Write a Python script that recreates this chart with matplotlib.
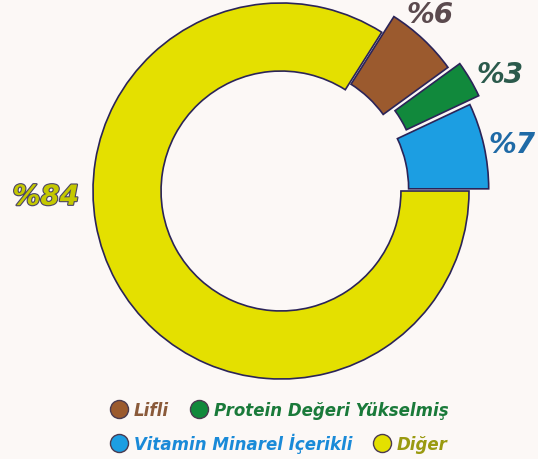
import matplotlib
matplotlib.use("Agg")
import matplotlib.pyplot as plt
import matplotlib.patheffects as pe
from matplotlib.lines import Line2D

# data
categories = ["Lifli", "Protein Değeri Yükselmiş", "Vitamin Minarel İçerikli", "Diğer"]
values = [6, 3, 7, 84]
pct_labels = ["%6", "%3", "%7", "%84"]
colors = ["#9b5a2e", "#11893c", "#1c9ee2", "#e4e000"]
label_colors = ["#5b4a4e", "#2b5a4c", "#1f6aa6", "#c4c800"]
legend_colors = ["#8a5a3a", "#1a7a3a", "#1a8ad8", "#9a9a10"]
explode = [0.053, 0.115, 0.053, 0.0]

edge = "#2b2458"
bg = "#fcf8f6"

fig = plt.figure(figsize=(5.38, 4.6), dpi=100, facecolor=bg)
ax = fig.add_axes([0, 0, 1, 1])
ax.set_facecolor(bg)

wedges, _ = ax.pie(values, colors=colors, startangle=57.6, counterclock=False,
                   explode=explode, radius=1.0,
                   wedgeprops=dict(width=0.362, edgecolor=edge, linewidth=1.2))
# the pulled-out slices are drawn a bit thicker than the ring
for w in wedges[:3]:
    w.set_radius(1.053)
    w.set_width(0.426)

ax.set_aspect("auto")
ax.set_xlim(-281 / 188, (538 - 281) / 188)
ax.set_ylim(-(460 - 192) / 188, 192 / 188)
ax.axis("off")

fnt = dict(family="DejaVu Sans", weight="bold", style="italic")

txt_pos = [(0.8, 0.967), (0.93, 0.837), (0.952, 0.685), (0.085, 0.57)]
for (x, y), t, c in zip(txt_pos, pct_labels, label_colors):
    tx = fig.text(x, y, t, color=c, fontsize=20, ha="center", va="center", **fnt)
    if t == "%84":
        tx.set_path_effects([pe.withStroke(linewidth=1.6, foreground="#4a4466")])

def handle(c):
    return Line2D([], [], marker="o", linestyle="none", markersize=13,
                  markerfacecolor=c, markeredgecolor="#4a3a50", markeredgewidth=1.0)

rows = [([0, 1], 0.106), ([2, 3], 0.035)]
for idx, y in rows:
    leg = fig.legend([handle(colors[i]) for i in idx], [categories[i] for i in idx],
                     loc="center left", bbox_to_anchor=(0.205, y), ncol=2,
                     frameon=False, borderpad=0, borderaxespad=0,
                     handlelength=1.0, handletextpad=0.4, columnspacing=1.3,
                     prop=dict(size=12, **fnt),
                     labelcolor=[legend_colors[i] for i in idx])

fig.savefig("out.png", dpi=100, facecolor=bg)
